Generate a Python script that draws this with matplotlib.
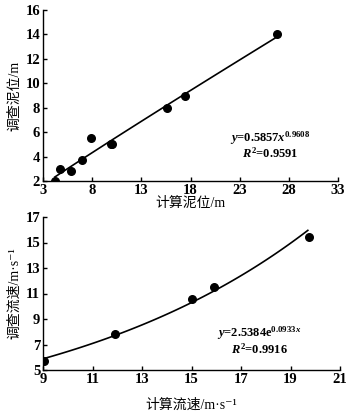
import numpy as np
import matplotlib
matplotlib.use("Agg")
import matplotlib.pyplot as plt

plt.rcParams['font.family'] = ['Liberation Serif', 'Noto Sans CJK SC', 'DejaVu Sans']
plt.rcParams['mathtext.fontset'] = 'custom'
plt.rcParams['mathtext.rm'] = 'Liberation Serif:bold'
plt.rcParams['mathtext.it'] = 'Liberation Serif:italic:bold'
plt.rcParams['mathtext.bf'] = 'Liberation Serif:bold'

# top panel data (mud level)
calc_level = [4.2, 4.7, 5.8, 7.0, 7.9, 9.9, 10.0, 15.6, 17.4, 26.8]
surv_level = [2.0, 3.0, 2.8, 3.7, 5.5, 5.0, 5.0, 8.0, 9.0, 14.0]
level_a, level_b = 0.5857, 0.9608
level_xticks = [3, 8, 13, 18, 23, 28, 33]
level_yticks = [2, 4, 6, 8, 10, 12, 14, 16]

# bottom panel data (flow speed)
calc_speed = [9.05, 11.9, 15.0, 15.9, 19.75]
surv_speed = [5.7, 7.8, 10.6, 11.5, 15.4]
speed_a, speed_b = 2.5384, 0.0933
speed_xticks = [9, 11, 13, 15, 17, 19, 21]
speed_yticks = [5, 7, 9, 11, 13, 15, 17]

W, H = 358, 416
fig = plt.figure(figsize=(W/100, H/100), dpi=100)
ax1 = fig.add_axes([43/W, 1-181/H, (338-43)/W, (181-10)/H])
ax2 = fig.add_axes([43/W, 1-370/H, (340-43)/W, (370-217)/H])

def style(ax):
    for s in ['top', 'right']:
        ax.spines[s].set_visible(False)
    for s in ['left', 'bottom']:
        ax.spines[s].set_linewidth(1.0)
    ax.tick_params(direction='in', length=3, width=1, labelsize=10.5, pad=2)
    for lab in ax.get_xticklabels() + ax.get_yticklabels():
        lab.set_fontweight('bold')

# top
ax1.scatter(calc_level, surv_level, s=30, color='black', marker='o', zorder=3)
xf = np.linspace(min(calc_level), max(calc_level), 100)
ax1.plot(xf, level_a * xf ** level_b, color='black', lw=1.2)
ax1.set_xlim(3, 33)
ax1.set_ylim(2, 16)
ax1.set_xticks(level_xticks)
ax1.set_yticks(level_yticks)
style(ax1)
ax1.set_xlabel('计算泥位/m', fontsize=10, labelpad=0)
ax1.set_ylabel('调查泥位/m', fontsize=10, labelpad=3)
ax1.text(26.1, 5.5, r'$y$=0.5857$x^{0.9608}$', ha='center', va='center', fontsize=9, fontweight='bold')
ax1.text(26.1, 4.25, r'$R^{2}$=0.9591', ha='center', va='center', fontsize=9, fontweight='bold')

# bottom
ax2.scatter(calc_speed, surv_speed, s=30, color='black', marker='o', zorder=3)
xf2 = np.linspace(9.0, 19.7, 100)
ax2.plot(xf2, speed_a * np.exp(speed_b * xf2), color='black', lw=1.2)
ax2.set_xlim(9, 21)
ax2.set_ylim(5, 17)
ax2.set_xticks(speed_xticks)
ax2.set_yticks(speed_yticks)
style(ax2)
ax2.set_xlabel('计算流速/m·s⁻¹', fontsize=10, labelpad=9)
ax2.set_ylabel('调查流速/m·s⁻¹', fontsize=10, labelpad=3)
ax2.text(17.75, 7.85, r'$y$=2.5384e$^{0.0933x}$', ha='center', va='center', fontsize=9, fontweight='bold')
ax2.text(17.75, 6.6, r'$R^{2}$=0.9916', ha='center', va='center', fontsize=9, fontweight='bold')

fig.savefig('out.png', dpi=100, facecolor='white')
